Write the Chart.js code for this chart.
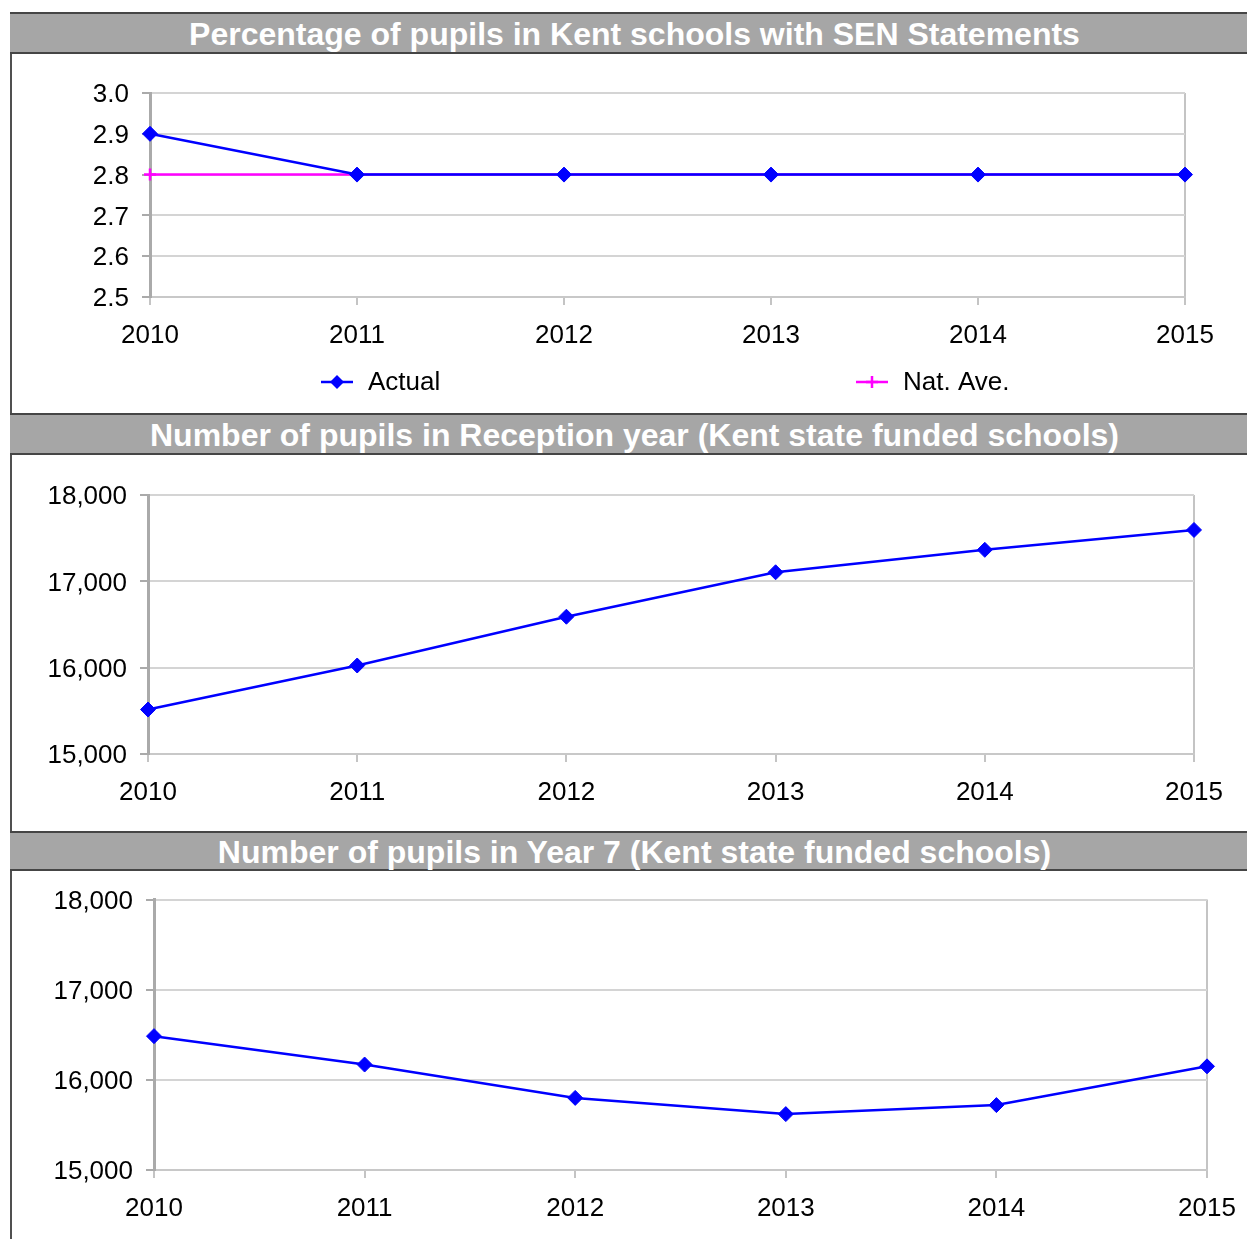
<!DOCTYPE html>
<html>
<head>
<meta charset="utf-8">
<script src="https://cdn.jsdelivr.net/npm/chart.js@4.4.1/dist/chart.umd.min.js"></script>
<style>
  html, body { margin: 0; padding: 0; background: #fff; width: 1247px; height: 1239px; overflow: hidden; }
  .frame { position: absolute; left: 10px; width: 1260px; border-left: 2px solid #505050; box-sizing: border-box; }
  .bar { position: absolute; left: 10px; width: 1260px; background: #a6a6a6; border-top: 2px solid #454545; border-bottom: 2px solid #454545; box-sizing: border-box;
         color: #fff; font: bold 32px "Liberation Sans", Arial, sans-serif; text-align: left; white-space: nowrap; }
  .bar span { position: absolute; left: 0; width: 1249px; text-align: center; }
  .cv { position: absolute; left: 12px; width: 1235px; }
</style>
</head>
<body>
<div class="frame" style="top:12px;height:1240px;"></div>

<div class="bar" style="top:12px;height:42px;"><span style="top:2px;">Percentage of pupils in Kent schools with SEN Statements</span></div>
<div class="cv" style="top:54px;height:359px;"><canvas id="c1"></canvas></div>

<div class="bar" style="top:413px;height:42px;"><span style="top:2px;">Number of pupils in Reception year (Kent state funded schools)</span></div>
<div class="cv" style="top:455px;height:376px;"><canvas id="c2"></canvas></div>

<div class="bar" style="top:831px;height:40px;"><span style="top:1px;">Number of pupils in Year 7 (Kent state funded schools)</span></div>
<div class="cv" style="top:871px;height:368px;width:1245px;"><canvas id="c3"></canvas></div>

<script>
// ---------------- DATA ----------------
const years = ['2010', '2011', '2012', '2013', '2014', '2015'];

const senActual = [2.9, 2.8, 2.8, 2.8, 2.8, 2.8];
const senNatAve = [2.8, 2.8, 2.8, 2.8, 2.8, 2.8];
const senAxis = { min: 2.5, max: 3.0, step: 0.1 };

const receptionPupils = [15515, 16025, 16590, 17105, 17365, 17595];
const year7Pupils = [16485, 16170, 15800, 15620, 15720, 16150];
const pupilsAxis = { min: 15000, max: 18000, step: 1000 };

const seriesLabels = { actual: 'Actual', natAve: 'Nat. Ave.' };

// ---------------- STYLE ----------------
const FONT = '"Liberation Sans", Arial, sans-serif';
const BLUE = '#0000ff';
const MAGENTA = '#ff00ff';
const TICK_SIZE = 26;

Chart.defaults.font.family = FONT;
Chart.defaults.color = '#000';

function drawMarker(ctx, style, color, x, y, r) {
  ctx.save();
  ctx.fillStyle = color; ctx.strokeStyle = color; ctx.lineWidth = 2.5;
  ctx.beginPath();
  if (style === 'rectRot') {
    ctx.moveTo(x, y - r); ctx.lineTo(x + r, y); ctx.lineTo(x, y + r); ctx.lineTo(x - r, y); ctx.closePath(); ctx.fill();
  } else {
    ctx.moveTo(x - r, y); ctx.lineTo(x + r, y); ctx.moveTo(x, y - r); ctx.lineTo(x, y + r); ctx.stroke();
  }
  ctx.restore();
}

const customLegend = {
  id: 'customLegend',
  afterDraw(chart, args, opts) {
    if (!opts || !opts.items) return;
    const ctx = chart.ctx;
    chart.data.datasets.forEach((ds, i) => {
      const it = opts.items[i];
      if (!it) return;
      ctx.save();
      ctx.strokeStyle = ds.borderColor; ctx.lineWidth = 2.5;
      ctx.beginPath(); ctx.moveTo(it.x - 16, opts.y); ctx.lineTo(it.x + 16, opts.y); ctx.stroke();
      drawMarker(ctx, ds.pointStyle, ds.borderColor, it.x, opts.y, ds.pointStyle === 'rectRot' ? 7 : 6);
      ctx.fillStyle = '#000'; ctx.font = TICK_SIZE + 'px ' + FONT; ctx.textBaseline = 'middle'; ctx.textAlign = 'left';
      ctx.fillText(ds.label, it.x + 31, opts.y + 1);
      ctx.restore();
    });
  }
};

function makeChart(id, datasets, axis, fmt, geo, legend) {
  return new Chart(document.getElementById(id), {
    type: 'line',
    data: { labels: years, datasets },
    options: {
      responsive: true,
      maintainAspectRatio: false,
      animation: false,
      layout: { padding: { top: geo.top, right: geo.right, left: 0, bottom: 0 } },
      plugins: { legend: { display: false }, tooltip: { enabled: false }, title: { display: false },
                 customLegend: legend || {} },
      scales: {
        x: {
          offset: false,
          grid: {
            color: c => (c.index === years.length - 1 ? '#c4c4c4' : 'rgba(0,0,0,0)'),
            lineWidth: 2, tickColor: '#c4c4c4', tickLength: 8, drawOnChartArea: true
          },
          border: { color: '#c8c8c8', width: 2 },
          ticks: { font: { size: TICK_SIZE }, padding: 15, color: '#000', maxRotation: 0, autoSkip: false },
          afterFit: s => { s.height = geo.xHeight; }
        },
        y: {
          min: axis.min, max: axis.max,
          grid: { color: '#d4d4d4', lineWidth: 2, tickColor: '#aaaaaa', tickLength: 8 },
          border: { color: '#aaaaaa', width: 3 },
          ticks: { stepSize: axis.step, font: { size: TICK_SIZE }, padding: 13, color: '#000', callback: fmt, labelOffset: 2 },
          afterFit: s => { s.width = geo.yWidth; }
        }
      }
    },
    plugins: [customLegend]
  });
}

function lineDs(label, data, color, style, radius) {
  return { label, data, borderColor: color, backgroundColor: color, borderWidth: 2.5,
           pointStyle: style, pointRadius: radius, pointBorderWidth: style === 'cross' ? 2.5 : 1,
           pointBackgroundColor: color, pointBorderColor: color, tension: 0, clip: false };
}

const fmtDec = v => Number(v).toFixed(1);
const fmtThousands = v => Number(v).toLocaleString('en-GB');

makeChart('c1',
  [lineDs(seriesLabels.actual, senActual, BLUE, 'rectRot', 7.5),
   lineDs(seriesLabels.natAve, senNatAve, MAGENTA, 'cross', 6)],
  senAxis, fmtDec,
  { top: 39, right: 62, yWidth: 138, xHeight: 116 },
  { y: 328, items: [{ x: 325 }, { x: 860 }] });

makeChart('c2',
  [lineDs(seriesLabels.actual, receptionPupils, BLUE, 'rectRot', 7.5)],
  pupilsAxis, fmtThousands,
  { top: 40, right: 53, yWidth: 136, xHeight: 77 });

makeChart('c3',
  [lineDs(seriesLabels.actual, year7Pupils, BLUE, 'rectRot', 7.5)],
  pupilsAxis, fmtThousands,
  { top: 28, right: 50, yWidth: 142, xHeight: 69 });
</script>
</body>
</html>
